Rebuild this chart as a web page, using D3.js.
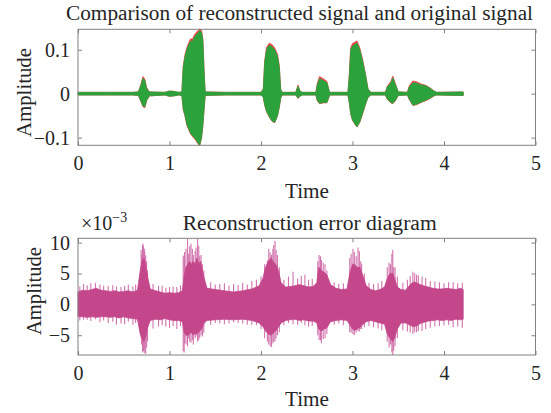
<!DOCTYPE html>
<html>
<head>
<meta charset="utf-8" />
<title>Reconstruction</title>
<script src="https://d3js.org/d3.v7.min.js"></script>
<style>
  body { margin: 0; background: #fff; }
  svg text { font-family: "Liberation Serif", "Times New Roman", serif; fill: #262626; }
  .axis path, .axis line { stroke: #808080; }
</style>
</head>
<body>
<div id="graphic"></div>
<script>
// ---- top panel: envelope of reconstructed (green) and original (red) signal ----
var sigTime  = [0, 0.3, 0.6, 0.66, 0.69, 0.71, 0.73, 0.75, 0.78, 0.95, 1.0, 1.05, 1.1, 1.135,
  1.15, 1.17, 1.19, 1.21, 1.23, 1.25, 1.27, 1.29, 1.31, 1.33, 1.35, 1.365, 1.38, 1.39,
  1.6, 2.0, 2.025, 2.04, 2.06, 2.09, 2.12, 2.15, 2.18, 2.2, 2.215, 2.23,
  2.38, 2.405, 2.425, 2.45, 2.6, 2.615, 2.64, 2.68, 2.72, 2.745, 2.76,
  2.95, 2.965, 2.98, 3.0, 3.03, 3.05, 3.08, 3.11, 3.14, 3.17, 3.2,
  3.36, 3.38, 3.42, 3.44, 3.47, 3.5, 3.6, 3.62, 3.66, 3.7, 3.75, 3.8, 3.85, 3.89, 3.92, 4.21];
var sigUpper = [0.003, 0.003, 0.003, 0.004, 0.02, 0.035, 0.03, 0.012, 0.004, 0.003, 0.006, 0.005, 0.003, 0.004,
  0.06, 0.085, 0.1, 0.11, 0.12, 0.118, 0.128, 0.133, 0.138, 0.143, 0.14, 0.12, 0.04, 0.004,
  0.003, 0.003, 0.01, 0.07, 0.1, 0.11, 0.107, 0.1, 0.085, 0.06, 0.01, 0.003,
  0.003, 0.017, 0.006, 0.003, 0.003, 0.02, 0.034, 0.03, 0.025, 0.006, 0.003,
  0.003, 0.04, 0.1, 0.108, 0.113, 0.115, 0.1, 0.075, 0.045, 0.01, 0.003,
  0.003, 0.015, 0.025, 0.036, 0.02, 0.004, 0.003, 0.015, 0.025, 0.024, 0.02, 0.018, 0.012, 0.006, 0.003, 0.004];
var sigLower = [-0.003, -0.003, -0.003, -0.004, -0.018, -0.028, -0.03, -0.015, -0.005, -0.003, -0.006, -0.005, -0.003, -0.004,
  -0.035, -0.05, -0.07, -0.08, -0.09, -0.095, -0.1, -0.105, -0.112, -0.117, -0.1, -0.07, -0.03, -0.004,
  -0.003, -0.003, -0.008, -0.025, -0.04, -0.052, -0.062, -0.065, -0.05, -0.03, -0.01, -0.003,
  -0.003, -0.01, -0.006, -0.003, -0.003, -0.015, -0.022, -0.02, -0.02, -0.006, -0.003,
  -0.003, -0.02, -0.045, -0.06, -0.07, -0.075, -0.064, -0.045, -0.025, -0.008, -0.003,
  -0.003, -0.012, -0.02, -0.022, -0.015, -0.004, -0.003, -0.012, -0.026, -0.024, -0.019, -0.015, -0.01, -0.005, -0.003, -0.004];
var origUpper = [0.003, 0.003, 0.003, 0.004, 0.023, 0.039, 0.033, 0.014, 0.004, 0.003, 0.006, 0.005, 0.003, 0.004,
  0.063, 0.09, 0.105, 0.116, 0.125, 0.124, 0.133, 0.139, 0.143, 0.147, 0.144, 0.124, 0.042, 0.004,
  0.003, 0.003, 0.011, 0.074, 0.105, 0.115, 0.112, 0.104, 0.09, 0.064, 0.01, 0.003,
  0.003, 0.02, 0.006, 0.003, 0.003, 0.023, 0.039, 0.034, 0.028, 0.006, 0.003,
  0.003, 0.043, 0.105, 0.114, 0.118, 0.12, 0.104, 0.078, 0.047, 0.01, 0.003,
  0.003, 0.017, 0.028, 0.04, 0.022, 0.004, 0.003, 0.018, 0.029, 0.027, 0.022, 0.019, 0.013, 0.006, 0.003, 0.004];
var origLower = [-0.003, -0.003, -0.003, -0.004, -0.019, -0.03, -0.032, -0.016, -0.005, -0.003, -0.006, -0.005, -0.003, -0.004,
  -0.036, -0.052, -0.072, -0.082, -0.092, -0.097, -0.102, -0.107, -0.114, -0.118, -0.102, -0.072, -0.031, -0.004,
  -0.003, -0.003, -0.008, -0.026, -0.041, -0.053, -0.063, -0.066, -0.051, -0.031, -0.01, -0.003,
  -0.003, -0.011, -0.006, -0.003, -0.003, -0.016, -0.023, -0.021, -0.021, -0.006, -0.003,
  -0.003, -0.021, -0.046, -0.061, -0.071, -0.076, -0.065, -0.046, -0.026, -0.008, -0.003,
  -0.003, -0.013, -0.021, -0.023, -0.016, -0.004, -0.003, -0.013, -0.027, -0.025, -0.02, -0.016, -0.011, -0.005, -0.003, -0.004];

// ---- bottom panel: reconstruction error envelope (x 1e-3) ----
var errTime = [0, 0.05, 0.1, 0.15, 0.2, 0.25, 0.3, 0.35, 0.4, 0.45, 0.5, 0.55, 0.6, 0.65,
  0.68, 0.7, 0.72, 0.74, 0.76, 0.79, 0.85, 0.9, 0.95, 1.0, 1.05, 1.1, 1.14,
  1.16, 1.18, 1.2, 1.22, 1.24, 1.26, 1.28, 1.3, 1.32, 1.34, 1.36, 1.38, 1.41,
  1.5, 1.6, 1.7, 1.8, 1.9, 1.98, 2.02, 2.05, 2.08, 2.11, 2.13, 2.16, 2.19, 2.22,
  2.27, 2.32, 2.37, 2.42, 2.47, 2.52, 2.57, 2.61, 2.63, 2.66, 2.69, 2.72, 2.76,
  2.82, 2.88, 2.94, 2.97, 3.0, 3.02, 3.05, 3.08, 3.11, 3.15, 3.2, 3.25, 3.3, 3.35,
  3.38, 3.41, 3.44, 3.46, 3.49, 3.53, 3.58, 3.62, 3.66, 3.7, 3.74, 3.78, 3.83,
  3.88, 3.93, 3.98, 4.03, 4.08, 4.13, 4.18, 4.21];
var errCoreHi = [2.0, 2.3, 2.2, 2.4, 2.6, 2.3, 2.2, 2.1, 2.2, 2.0, 2.1, 2.2, 2.0, 2.3,
  5.5, 7.0, 7.5, 6.5, 4.5, 2.5, 2.2, 2.0, 1.8, 1.9, 1.8, 1.9, 2.2,
  4.5, 6.0, 6.5, 7.0, 6.5, 7.0, 6.5, 7.5, 6.5, 7.0, 5.5, 4.2, 2.6,
  2.4, 2.2, 2.0, 2.2, 2.5, 3.0, 4.2, 6.0, 7.0, 7.5, 7.0, 6.5, 5.5, 3.5,
  2.8, 2.9, 3.0, 3.2, 3.0, 2.8, 2.9, 3.5, 6.0, 5.5, 5.2, 4.8, 3.2,
  2.6, 2.4, 2.5, 5.0, 6.5, 6.5, 6.0, 6.0, 4.8, 3.0, 2.4, 2.2, 2.4, 2.8,
  4.2, 5.0, 5.0, 4.2, 2.8, 2.4, 2.3, 3.0, 3.6, 3.5, 3.2, 3.0, 2.8,
  2.6, 2.5, 2.5, 2.6, 2.5, 2.4, 2.6, 2.4];
var errCoreLo = [-2.0, -2.0, -2.1, -2.0, -2.1, -2.0, -2.0, -2.1, -2.0, -2.2, -2.0, -2.2, -2.3, -2.4,
  -4.8, -5.5, -6.0, -5.2, -3.8, -2.6, -2.4, -2.5, -2.3, -2.5, -2.6, -2.6, -2.8,
  -4.5, -5.0, -5.0, -4.8, -4.5, -5.0, -4.7, -4.8, -4.5, -4.2, -3.7, -3.0, -2.6,
  -2.5, -2.4, -2.5, -2.4, -2.6, -3.0, -3.6, -4.3, -4.8, -5.0, -4.7, -4.3, -3.7, -3.0,
  -2.6, -2.5, -2.4, -2.6, -2.5, -2.7, -2.7, -3.0, -4.0, -4.3, -4.0, -3.8, -2.8,
  -2.6, -2.5, -2.6, -3.3, -4.0, -4.2, -4.0, -3.7, -3.3, -2.8, -2.6, -2.8, -3.0, -3.2,
  -4.8, -5.5, -6.0, -5.5, -4.0, -3.0, -3.0, -3.3, -3.6, -3.5, -3.1, -2.9, -2.7,
  -2.6, -2.5, -2.6, -2.5, -2.6, -2.4, -2.5, -2.4];
// thin outliers that stick out of the dense band
var spikeTime = [0.06, 0.19, 0.33, 0.42, 0.55, 0.69, 0.705, 0.715, 0.725, 0.74, 0.76, 0.88, 1.0,
  1.15, 1.165, 1.197, 1.22, 1.25, 1.28, 1.307, 1.33, 1.36, 1.55, 1.75, 1.95,
  2.07, 2.1, 2.13, 2.153, 2.18, 2.35, 2.44, 2.635, 2.66, 2.7,
  2.985, 3.005, 3.06, 3.09, 3.415, 3.44, 3.45, 3.66, 3.7, 3.76, 3.95, 4.1, 4.2,
  0.02, 0.1, 0.14, 0.24, 0.28, 0.38, 0.47, 0.51, 0.6, 0.63,
  0.695, 0.71, 0.73, 0.75, 0.82, 0.92, 0.96, 1.04, 1.08, 1.12,
  1.16, 1.18, 1.21, 1.235, 1.26, 1.29, 1.32, 1.345, 1.375,
  1.45, 1.5, 1.6, 1.65, 1.7, 1.8, 1.85, 1.9, 2.0,
  2.04, 2.085, 2.115, 2.14, 2.165, 2.2, 2.25, 2.3, 2.4, 2.48, 2.52, 2.56,
  2.62, 2.65, 2.68, 2.72, 2.8, 2.85, 2.9,
  2.97, 3.02, 3.04, 3.075, 3.1, 3.13, 3.18, 3.23, 3.28, 3.32,
  3.38, 3.4, 3.43, 3.465, 3.49, 3.55, 3.6, 3.63, 3.68, 3.72, 3.8, 3.85, 3.9, 4.0, 4.05, 4.15];
var spikeUp = [3.3, 3.5, 3.0, 2.9, 3.2, 8.8, 9.6, 9.4, 9.0, 7.9, 5.5, 3.0, 2.8,
  7.8, 8.5, 10.6, 9.4, 9.0, 8.6, 10.6, 7.8, 6.5, 3.3, 3.1, 4.0,
  7.1, 8.4, 9.0, 10.3, 8.0, 5.3, 4.6, 8.0, 7.2, 6.5,
  8.2, 9.0, 9.2, 7.0, 6.5, 8.8, 6.0, 5.3, 4.8, 4.5, 3.6, 3.6, 3.5,
  2.9, 3.1, 3.4, 3.2, 3.0, 3.1, 2.8, 3.0, 2.9, 3.2,
  8.0, 9.8, 8.5, 7.0, 3.3, 3.0, 2.7, 2.9, 2.8, 3.1,
  8.0, 9.0, 8.2, 9.8, 8.0, 9.2, 9.5, 8.0, 5.5,
  3.6, 3.2, 3.4, 3.0, 3.3, 3.5, 3.2, 3.8, 4.5,
  6.5, 9.0, 8.0, 9.6, 8.8, 6.0, 4.0, 4.5, 4.2, 4.8, 4.0, 4.1,
  7.0, 7.8, 6.8, 5.5, 3.6, 3.3, 3.4,
  7.5, 8.5, 7.8, 8.6, 6.5, 5.0, 3.5, 3.3, 3.4, 3.8,
  6.0, 6.8, 8.2, 6.0, 4.5, 3.5, 4.0, 4.6, 5.0, 4.7, 4.3, 3.8, 3.7, 3.4, 3.6, 3.4];
var spikeDown = [-2.5, -2.4, -3.0, -3.3, -2.8, -5.5, -7.8, -7.6, -7.3, -8.0, -6.0, -3.6, -3.8,
  -7.6, -6.3, -6.8, -6.0, -5.8, -5.5, -6.0, -5.4, -5.2, -3.1, -3.0, -3.4,
  -6.0, -6.8, -6.3, -6.0, -5.0, -3.2, -3.0, -5.8, -6.3, -5.5,
  -4.6, -4.8, -4.3, -4.0, -6.5, -8.2, -7.5, -4.8, -4.5, -4.3, -3.5, -3.7, -3.8,
  -2.6, -2.5, -2.7, -2.9, -2.6, -2.8, -3.1, -3.2, -3.3, -3.0,
  -6.5, -6.8, -7.9, -7.0, -3.9, -3.4, -3.6, -3.5, -4.0, -3.5,
  -7.8, -6.5, -5.5, -6.2, -6.5, -5.2, -5.8, -5.0, -4.6,
  -3.3, -3.0, -3.2, -3.1, -2.9, -3.1, -3.3, -3.3, -4.0,
  -5.5, -6.5, -6.9, -6.0, -5.5, -4.5, -3.4, -3.0, -3.3, -3.4, -3.6, -3.5,
  -5.0, -5.8, -5.6, -4.8, -3.3, -3.1, -3.4,
  -4.5, -5.0, -4.6, -4.4, -4.0, -3.7, -3.5, -3.7, -3.9, -4.2,
  -6.0, -7.0, -7.8, -6.8, -5.5, -4.2, -4.4, -4.6, -4.5, -4.3, -4.0, -3.8, -3.6, -3.4, -3.3, -3.6];

var xTicks = [0, 1, 2, 3, 4, 5];
var topYTicks = [-0.1, 0, 0.1];
var botYTicks = [-5, 0, 5, 10];

var W = 551, H = 413;
var svg = d3.select("#graphic").append("svg")
    .attr("width", W)
    .attr("height", H);

var axLeft = 78, axRight = 535.5;

function panel(top, bottom, yDomain, yTicks, yFmt) {
    var x = d3.scaleLinear().domain([0, 5]).range([axLeft, axRight]);
    var y = d3.scaleLinear().domain(yDomain).range([bottom, top]);
    var g = svg.append("g");

    // bottom & left axes, ticks inward
    g.append("g").attr("class", "axis")
        .attr("transform", "translate(0," + bottom + ")")
        .call(d3.axisBottom(x).tickValues(xTicks).tickSize(-4).tickPadding(11).tickFormat(d3.format("d")))
        .call(function (s) { s.select(".domain").remove(); });
    g.append("g").attr("class", "axis")
        .attr("transform", "translate(" + axLeft + ",0)")
        .call(d3.axisLeft(y).tickValues(yTicks).tickSize(-4).tickPadding(8).tickFormat(yFmt))
        .call(function (s) { s.select(".domain").remove(); });
    // mirrored ticks on top & right
    g.append("g").attr("class", "axis")
        .attr("transform", "translate(0," + top + ")")
        .call(d3.axisTop(x).tickValues(xTicks).tickSize(-4).tickFormat(""))
        .call(function (s) { s.select(".domain").remove(); });
    g.append("g").attr("class", "axis")
        .attr("transform", "translate(" + axRight + ",0)")
        .call(d3.axisRight(y).tickValues(yTicks).tickSize(-4).tickFormat(""))
        .call(function (s) { s.select(".domain").remove(); });

    g.selectAll(".axis text")
        .style("font-family", '"Liberation Serif", serif')
        .style("font-size", "20px")
        .style("fill", "#262626");

    return { x: x, y: y, g: g, top: top, bottom: bottom };
}

function box(p) {
    p.g.append("rect")
        .attr("x", axLeft).attr("y", p.top)
        .attr("width", axRight - axLeft).attr("height", p.bottom - p.top)
        .attr("fill", "none").attr("stroke", "#808080").attr("stroke-width", 1);
}

function envelope(p, t, hi, lo, color) {
    var pts = t.map(function (d, i) { return { t: d, hi: hi[i], lo: lo[i] }; });
    var area = d3.area()
        .x(function (d) { return p.x(d.t); })
        .y0(function (d) { return p.y(d.lo); })
        .y1(function (d) { return p.y(d.hi); });
    p.g.append("path").datum(pts)
        .attr("d", area)
        .attr("fill", color)
        .attr("stroke", color)
        .attr("stroke-width", 0.8);
}

function spikes(p, t, up, down, color) {
    p.g.append("g").selectAll("line")
        .data(t.map(function (d, i) { return { t: d, up: up[i], down: down[i] }; }))
        .enter().append("line")
        .attr("x1", function (d) { return p.x(d.t); })
        .attr("x2", function (d) { return p.x(d.t); })
        .attr("y1", function (d) { return p.y(d.down); })
        .attr("y2", function (d) { return p.y(d.up); })
        .attr("stroke", color)
        .attr("stroke-width", 1.1);
}

function label(x, y, str, len, rotate) {
    var t = svg.append("text")
        .attr("text-anchor", "middle")
        .attr("textLength", len)
        .attr("lengthAdjust", "spacingAndGlyphs")
        .style("font-size", "20px")
        .text(str);
    if (rotate) t.attr("transform", "translate(" + x + "," + y + ") rotate(-90)");
    else t.attr("x", x).attr("y", y);
    return t;
}

var fmtTop = function (d) { return d === 0 ? "0" : d3.format(".1f")(d).replace("-", "\u2212"); };
var fmtBot = function (d) { return String(d).replace("-", "\u2212"); };

var p1 = panel(29.3, 145.3, [-0.1175, 0.1465], topYTicks, fmtTop);
envelope(p1, sigTime, origUpper, origLower, "#e8484a");
envelope(p1, sigTime, sigUpper, sigLower, "#2ca23c");
box(p1);

var p2 = panel(238.3, 355, [-8.2, 10.7], botYTicks, fmtBot);
spikes(p2, spikeTime, spikeUp, spikeDown, "#d273ad");
envelope(p2, errTime, errCoreHi, errCoreLo, "#c4478c");
box(p2);

// titles and labels
label(299.5, 20, "Comparison of reconstructed signal and original signal", 467);
label(307, 198, "Time", 44);
label(31, 92.5, "Amplitude", 89, true);

label(309.7, 230, "Reconstruction error diagram", 254);
label(307, 406, "Time", 44);
label(41, 291, "Amplitude", 88, true);

var exp = svg.append("text").attr("x", 81).attr("y", 230).style("font-size", "20px");
exp.append("tspan").text("\u00d710");
exp.append("tspan").attr("dy", -8).style("font-size", "14px").text("\u22123");
</script>
</body>
</html>
